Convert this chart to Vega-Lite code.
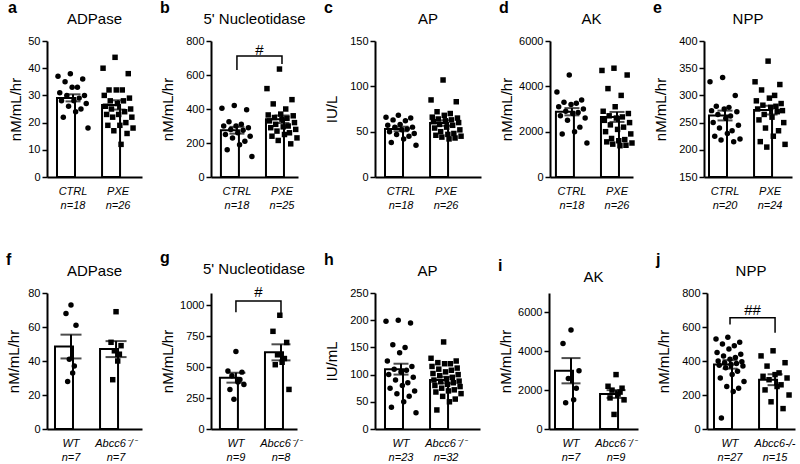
{
"$schema":"https://vega.github.io/schema/vega-lite/v6.json",
"background":"white",
"padding":{"left":6,"top":0,"right":2,"bottom":2},
"datasets":{
"pts":[
{"p":"a","g":"CTRL","v":37},{"p":"a","g":"CTRL","v":31},{"p":"a","g":"CTRL","v":28},{"p":"a","g":"CTRL","v":22},{"p":"a","g":"CTRL","v":35},{"p":"a","g":"CTRL","v":30},{"p":"a","g":"CTRL","v":26},{"p":"a","g":"CTRL","v":38},{"p":"a","g":"CTRL","v":33},{"p":"a","g":"CTRL","v":28},{"p":"a","g":"CTRL","v":24},{"p":"a","g":"CTRL","v":33},{"p":"a","g":"CTRL","v":29},{"p":"a","g":"CTRL","v":25},{"p":"a","g":"CTRL","v":36},{"p":"a","g":"CTRL","v":30},{"p":"a","g":"CTRL","v":27},{"p":"a","g":"CTRL","v":18},
{"p":"a","g":"PXE","v":40},{"p":"a","g":"PXE","v":30},{"p":"a","g":"PXE","v":26},{"p":"a","g":"PXE","v":23},{"p":"a","g":"PXE","v":19},{"p":"a","g":"PXE","v":32},{"p":"a","g":"PXE","v":28},{"p":"a","g":"PXE","v":25},{"p":"a","g":"PXE","v":22},{"p":"a","g":"PXE","v":17},{"p":"a","g":"PXE","v":44},{"p":"a","g":"PXE","v":32},{"p":"a","g":"PXE","v":27},{"p":"a","g":"PXE","v":23},{"p":"a","g":"PXE","v":19},{"p":"a","g":"PXE","v":12},{"p":"a","g":"PXE","v":32},{"p":"a","g":"PXE","v":28},{"p":"a","g":"PXE","v":24},{"p":"a","g":"PXE","v":20},{"p":"a","g":"PXE","v":16},{"p":"a","g":"PXE","v":38},{"p":"a","g":"PXE","v":29},{"p":"a","g":"PXE","v":25},{"p":"a","g":"PXE","v":22},{"p":"a","g":"PXE","v":18},
{"p":"b","g":"CTRL","v":405},{"p":"b","g":"CTRL","v":300},{"p":"b","g":"CTRL","v":250},{"p":"b","g":"CTRL","v":160},{"p":"b","g":"CTRL","v":325},{"p":"b","g":"CTRL","v":280},{"p":"b","g":"CTRL","v":230},{"p":"b","g":"CTRL","v":420},{"p":"b","g":"CTRL","v":300},{"p":"b","g":"CTRL","v":260},{"p":"b","g":"CTRL","v":190},{"p":"b","g":"CTRL","v":310},{"p":"b","g":"CTRL","v":275},{"p":"b","g":"CTRL","v":210},{"p":"b","g":"CTRL","v":395},{"p":"b","g":"CTRL","v":290},{"p":"b","g":"CTRL","v":240},{"p":"b","g":"CTRL","v":120},
{"p":"b","g":"PXE","v":520},{"p":"b","g":"PXE","v":365},{"p":"b","g":"PXE","v":330},{"p":"b","g":"PXE","v":290},{"p":"b","g":"PXE","v":240},{"p":"b","g":"PXE","v":430},{"p":"b","g":"PXE","v":350},{"p":"b","g":"PXE","v":310},{"p":"b","g":"PXE","v":270},{"p":"b","g":"PXE","v":215},{"p":"b","g":"PXE","v":635},{"p":"b","g":"PXE","v":370},{"p":"b","g":"PXE","v":340},{"p":"b","g":"PXE","v":295},{"p":"b","g":"PXE","v":250},{"p":"b","g":"PXE","v":400},{"p":"b","g":"PXE","v":345},{"p":"b","g":"PXE","v":300},{"p":"b","g":"PXE","v":260},{"p":"b","g":"PXE","v":195},{"p":"b","g":"PXE","v":455},{"p":"b","g":"PXE","v":360},{"p":"b","g":"PXE","v":320},{"p":"b","g":"PXE","v":280},{"p":"b","g":"PXE","v":230},
{"p":"c","g":"CTRL","v":66},{"p":"c","g":"CTRL","v":57},{"p":"c","g":"CTRL","v":50},{"p":"c","g":"CTRL","v":38},{"p":"c","g":"CTRL","v":63},{"p":"c","g":"CTRL","v":55},{"p":"c","g":"CTRL","v":47},{"p":"c","g":"CTRL","v":68},{"p":"c","g":"CTRL","v":58},{"p":"c","g":"CTRL","v":52},{"p":"c","g":"CTRL","v":42},{"p":"c","g":"CTRL","v":62},{"p":"c","g":"CTRL","v":53},{"p":"c","g":"CTRL","v":45},{"p":"c","g":"CTRL","v":65},{"p":"c","g":"CTRL","v":55},{"p":"c","g":"CTRL","v":48},{"p":"c","g":"CTRL","v":35},
{"p":"c","g":"PXE","v":85},{"p":"c","g":"PXE","v":66},{"p":"c","g":"PXE","v":61},{"p":"c","g":"PXE","v":54},{"p":"c","g":"PXE","v":46},{"p":"c","g":"PXE","v":72},{"p":"c","g":"PXE","v":64},{"p":"c","g":"PXE","v":58},{"p":"c","g":"PXE","v":50},{"p":"c","g":"PXE","v":44},{"p":"c","g":"PXE","v":107},{"p":"c","g":"PXE","v":68},{"p":"c","g":"PXE","v":62},{"p":"c","g":"PXE","v":55},{"p":"c","g":"PXE","v":47},{"p":"c","g":"PXE","v":42},{"p":"c","g":"PXE","v":70},{"p":"c","g":"PXE","v":63},{"p":"c","g":"PXE","v":57},{"p":"c","g":"PXE","v":48},{"p":"c","g":"PXE","v":43},{"p":"c","g":"PXE","v":83},{"p":"c","g":"PXE","v":65},{"p":"c","g":"PXE","v":60},{"p":"c","g":"PXE","v":52},{"p":"c","g":"PXE","v":45},
{"p":"d","g":"CTRL","v":3750},{"p":"d","g":"CTRL","v":3100},{"p":"d","g":"CTRL","v":2700},{"p":"d","g":"CTRL","v":1900},{"p":"d","g":"CTRL","v":3300},{"p":"d","g":"CTRL","v":2900},{"p":"d","g":"CTRL","v":2500},{"p":"d","g":"CTRL","v":4500},{"p":"d","g":"CTRL","v":3200},{"p":"d","g":"CTRL","v":2800},{"p":"d","g":"CTRL","v":2000},{"p":"d","g":"CTRL","v":3250},{"p":"d","g":"CTRL","v":2850},{"p":"d","g":"CTRL","v":2200},{"p":"d","g":"CTRL","v":3400},{"p":"d","g":"CTRL","v":3000},{"p":"d","g":"CTRL","v":2600},{"p":"d","g":"CTRL","v":1500},
{"p":"d","g":"PXE","v":4700},{"p":"d","g":"PXE","v":2900},{"p":"d","g":"PXE","v":2500},{"p":"d","g":"PXE","v":2000},{"p":"d","g":"PXE","v":1550},{"p":"d","g":"PXE","v":3900},{"p":"d","g":"PXE","v":2700},{"p":"d","g":"PXE","v":2300},{"p":"d","g":"PXE","v":1700},{"p":"d","g":"PXE","v":1450},{"p":"d","g":"PXE","v":4800},{"p":"d","g":"PXE","v":3100},{"p":"d","g":"PXE","v":2600},{"p":"d","g":"PXE","v":2100},{"p":"d","g":"PXE","v":1600},{"p":"d","g":"PXE","v":1380},{"p":"d","g":"PXE","v":3600},{"p":"d","g":"PXE","v":2650},{"p":"d","g":"PXE","v":2200},{"p":"d","g":"PXE","v":1650},{"p":"d","g":"PXE","v":1400},{"p":"d","g":"PXE","v":4500},{"p":"d","g":"PXE","v":2800},{"p":"d","g":"PXE","v":2400},{"p":"d","g":"PXE","v":1900},{"p":"d","g":"PXE","v":1500},
{"p":"e","g":"CTRL","v":325},{"p":"e","g":"CTRL","v":272},{"p":"e","g":"CTRL","v":250},{"p":"e","g":"CTRL","v":225},{"p":"e","g":"CTRL","v":280},{"p":"e","g":"CTRL","v":265},{"p":"e","g":"CTRL","v":240},{"p":"e","g":"CTRL","v":218},{"p":"e","g":"CTRL","v":333},{"p":"e","g":"CTRL","v":275},{"p":"e","g":"CTRL","v":258},{"p":"e","g":"CTRL","v":230},{"p":"e","g":"CTRL","v":278},{"p":"e","g":"CTRL","v":262},{"p":"e","g":"CTRL","v":235},{"p":"e","g":"CTRL","v":215},{"p":"e","g":"CTRL","v":300},{"p":"e","g":"CTRL","v":270},{"p":"e","g":"CTRL","v":245},{"p":"e","g":"CTRL","v":220},
{"p":"e","g":"PXE","v":325},{"p":"e","g":"PXE","v":290},{"p":"e","g":"PXE","v":275},{"p":"e","g":"PXE","v":255},{"p":"e","g":"PXE","v":215},{"p":"e","g":"PXE","v":310},{"p":"e","g":"PXE","v":282},{"p":"e","g":"PXE","v":265},{"p":"e","g":"PXE","v":240},{"p":"e","g":"PXE","v":205},{"p":"e","g":"PXE","v":363},{"p":"e","g":"PXE","v":295},{"p":"e","g":"PXE","v":278},{"p":"e","g":"PXE","v":260},{"p":"e","g":"PXE","v":225},{"p":"e","g":"PXE","v":300},{"p":"e","g":"PXE","v":280},{"p":"e","g":"PXE","v":270},{"p":"e","g":"PXE","v":235},{"p":"e","g":"PXE","v":320},{"p":"e","g":"PXE","v":285},{"p":"e","g":"PXE","v":272},{"p":"e","g":"PXE","v":250},{"p":"e","g":"PXE","v":210},
{"p":"f","g":"WT","v":68},{"p":"f","g":"WT","v":28},{"p":"f","g":"WT","v":41},{"p":"f","g":"WT","v":73},{"p":"f","g":"WT","v":33},{"p":"f","g":"WT","v":37},{"p":"f","g":"WT","v":61},
{"p":"f","g":"KO","v":51},{"p":"f","g":"KO","v":29},{"p":"f","g":"KO","v":46},{"p":"f","g":"KO","v":69},{"p":"f","g":"KO","v":40},{"p":"f","g":"KO","v":44},{"p":"f","g":"KO","v":49},
{"p":"g","g":"WT","v":470},{"p":"g","g":"WT","v":320},{"p":"g","g":"WT","v":430},{"p":"g","g":"WT","v":240},{"p":"g","g":"WT","v":627},{"p":"g","g":"WT","v":380},{"p":"g","g":"WT","v":400},{"p":"g","g":"WT","v":460},{"p":"g","g":"WT","v":360},
{"p":"g","g":"KO","v":790},{"p":"g","g":"KO","v":520},{"p":"g","g":"KO","v":600},{"p":"g","g":"KO","v":920},{"p":"g","g":"KO","v":540},{"p":"g","g":"KO","v":570},{"p":"g","g":"KO","v":700},{"p":"g","g":"KO","v":320},
{"p":"h","g":"WT","v":198},{"p":"h","g":"WT","v":125},{"p":"h","g":"WT","v":100},{"p":"h","g":"WT","v":75},{"p":"h","g":"WT","v":40},{"p":"h","g":"WT","v":155},{"p":"h","g":"WT","v":110},{"p":"h","g":"WT","v":90},{"p":"h","g":"WT","v":65},{"p":"h","g":"WT","v":200},{"p":"h","g":"WT","v":140},{"p":"h","g":"WT","v":105},{"p":"h","g":"WT","v":80},{"p":"h","g":"WT","v":50},{"p":"h","g":"WT","v":150},{"p":"h","g":"WT","v":108},{"p":"h","g":"WT","v":85},{"p":"h","g":"WT","v":60},{"p":"h","g":"WT","v":195},{"p":"h","g":"WT","v":115},{"p":"h","g":"WT","v":95},{"p":"h","g":"WT","v":70},{"p":"h","g":"WT","v":30},
{"p":"h","g":"KO","v":130},{"p":"h","g":"KO","v":115},{"p":"h","g":"KO","v":102},{"p":"h","g":"KO","v":90},{"p":"h","g":"KO","v":80},{"p":"h","g":"KO","v":68},{"p":"h","g":"KO","v":35},{"p":"h","g":"KO","v":122},{"p":"h","g":"KO","v":110},{"p":"h","g":"KO","v":98},{"p":"h","g":"KO","v":87},{"p":"h","g":"KO","v":75},{"p":"h","g":"KO","v":60},{"p":"h","g":"KO","v":160},{"p":"h","g":"KO","v":120},{"p":"h","g":"KO","v":105},{"p":"h","g":"KO","v":92},{"p":"h","g":"KO","v":82},{"p":"h","g":"KO","v":70},{"p":"h","g":"KO","v":50},{"p":"h","g":"KO","v":120},{"p":"h","g":"KO","v":108},{"p":"h","g":"KO","v":95},{"p":"h","g":"KO","v":85},{"p":"h","g":"KO","v":72},{"p":"h","g":"KO","v":55},{"p":"h","g":"KO","v":125},{"p":"h","g":"KO","v":112},{"p":"h","g":"KO","v":100},{"p":"h","g":"KO","v":88},{"p":"h","g":"KO","v":78},{"p":"h","g":"KO","v":65},
{"p":"i","g":"WT","v":4400},{"p":"i","g":"WT","v":1350},{"p":"i","g":"WT","v":2600},{"p":"i","g":"WT","v":5100},{"p":"i","g":"WT","v":1500},{"p":"i","g":"WT","v":2100},{"p":"i","g":"WT","v":3000},
{"p":"i","g":"KO","v":2200},{"p":"i","g":"KO","v":1600},{"p":"i","g":"KO","v":2000},{"p":"i","g":"KO","v":750},{"p":"i","g":"KO","v":2800},{"p":"i","g":"KO","v":1800},{"p":"i","g":"KO","v":1900},{"p":"i","g":"KO","v":2100},{"p":"i","g":"KO","v":1500},
{"p":"j","g":"WT","v":530},{"p":"j","g":"WT","v":450},{"p":"j","g":"WT","v":400},{"p":"j","g":"WT","v":375},{"p":"j","g":"WT","v":300},{"p":"j","g":"WT","v":65},{"p":"j","g":"WT","v":500},{"p":"j","g":"WT","v":430},{"p":"j","g":"WT","v":390},{"p":"j","g":"WT","v":360},{"p":"j","g":"WT","v":250},{"p":"j","g":"WT","v":540},{"p":"j","g":"WT","v":470},{"p":"j","g":"WT","v":410},{"p":"j","g":"WT","v":380},{"p":"j","g":"WT","v":320},{"p":"j","g":"WT","v":220},{"p":"j","g":"WT","v":490},{"p":"j","g":"WT","v":420},{"p":"j","g":"WT","v":385},{"p":"j","g":"WT","v":340},{"p":"j","g":"WT","v":240},{"p":"j","g":"WT","v":510},{"p":"j","g":"WT","v":440},{"p":"j","g":"WT","v":395},{"p":"j","g":"WT","v":370},{"p":"j","g":"WT","v":280},
{"p":"j","g":"KO","v":430},{"p":"j","g":"KO","v":310},{"p":"j","g":"KO","v":230},{"p":"j","g":"KO","v":370},{"p":"j","g":"KO","v":290},{"p":"j","g":"KO","v":160},{"p":"j","g":"KO","v":460},{"p":"j","g":"KO","v":320},{"p":"j","g":"KO","v":250},{"p":"j","g":"KO","v":330},{"p":"j","g":"KO","v":260},{"p":"j","g":"KO","v":120},{"p":"j","g":"KO","v":390},{"p":"j","g":"KO","v":300},{"p":"j","g":"KO","v":200}
],
"sum":[
{"p":"a","g":"CTRL","m":29,"lo":27.8,"hi":30.4},{"p":"a","g":"PXE","m":26.5,"lo":24.8,"hi":28.2},
{"p":"b","g":"CTRL","m":275,"lo":255,"hi":295},{"p":"b","g":"PXE","m":340,"lo":318,"hi":362},
{"p":"c","g":"CTRL","m":53,"lo":50.5,"hi":55.5},{"p":"c","g":"PXE","m":59.5,"lo":56.5,"hi":62.5},
{"p":"d","g":"CTRL","m":2880,"lo":2720,"hi":3040},{"p":"d","g":"PXE","m":2650,"lo":2430,"hi":2870},
{"p":"e","g":"CTRL","m":263,"lo":254,"hi":272},{"p":"e","g":"PXE","m":273,"lo":265,"hi":281},
{"p":"f","g":"WT","m":48.5,"lo":41.5,"hi":55.5},{"p":"f","g":"KO","m":47,"lo":42.3,"hi":51.7},
{"p":"g","g":"WT","m":415,"lo":375,"hi":455},{"p":"g","g":"KO","m":620,"lo":555,"hi":685},
{"p":"h","g":"WT","m":110,"lo":100,"hi":120},{"p":"h","g":"KO","m":90,"lo":84,"hi":96},
{"p":"i","g":"WT","m":3000,"lo":2350,"hi":3650},{"p":"i","g":"KO","m":1800,"lo":1600,"hi":2000},
{"p":"j","g":"WT","m":380,"lo":355,"hi":405},{"p":"j","g":"KO","m":290,"lo":258,"hi":322}
],
"br":[
{"p":"b","g":"CTRL","y":630,"o":1},{"p":"b","g":"CTRL","y":712,"o":2},{"p":"b","g":"PXE","y":712,"o":3},{"p":"b","g":"PXE","y":665,"o":4},
{"p":"g","g":"WT","y":945,"o":1},{"p":"g","g":"WT","y":1035,"o":2},{"p":"g","g":"KO","y":1035,"o":3},{"p":"g","g":"KO","y":935,"o":4},
{"p":"j","g":"WT","y":615,"o":1},{"p":"j","g":"WT","y":654,"o":2},{"p":"j","g":"KO","y":654,"o":3},{"p":"j","g":"KO","y":566,"o":4}
],
"sig":[
{"p":"b","g":"CTRL","y":745,"t":"#"},
{"p":"g","g":"WT","y":1110,"t":"#"},
{"p":"j","g":"WT","y":702,"t":"##"}
]
},
"vconcat":[
{"hconcat":[
{"title":{"text":"a","anchor":"start","fontWeight":"bold","fontSize":16,"offset":-4},"vconcat":[{"width":95,"height":136,"title":{"text":"ADPase","anchor":"middle","frame":"group","offset":8,"fontWeight":"normal"},
"encoding":{"x":{"field":"g","type":"nominal","title":null,"scale":{"domain":["CTRL","PXE"],"paddingInner":0.289,"paddingOuter":0.1989,"align":0.558},"axis":{"labelExpr":"datum.value=='CTRL'?['CTRL','n=18']:['PXE','n=26']"}}},
"layer":[
{"data":{"name":"sum"},"transform":[{"filter":"datum.p=='a'"}],"mark":{"type":"bar","fill":"white","stroke":"black","strokeWidth":2},"encoding":{"y":{"field":"m","type":"quantitative","title":"nM/mL/hr","scale":{"domain":[0,50],"nice":false},"axis":{"values":[0,10,20,30,40,50],"format":"d","minExtent":20,"maxExtent":20}}}},
{"data":{"name":"pts"},"transform":[{"filter":"datum.p=='a'"},{"window":[{"op":"row_number","as":"rn"}],"groupby":["g"]},{"window":[{"op":"percent_rank","as":"pr"}],"sort":[{"field":"rn"}],"groupby":["g"]}],"mark":{"type":"point","filled":true,"opacity":1,"size":30,"color":"black"},"encoding":{"xOffset":{"field":"pr","type":"quantitative","scale":{"domain":[0,1],"range":[1,31]}},"y":{"field":"v","type":"quantitative","title":"nM/mL/hr","scale":{"domain":[0,50],"nice":false},"axis":{"values":[0,10,20,30,40,50],"format":"d","minExtent":20,"maxExtent":20}},"shape":{"condition":{"test":"datum.g=='CTRL'||datum.g=='WT'","value":"circle"},"value":"square"}}},
{"data":{"name":"sum"},"transform":[{"filter":"datum.p=='a'"}],"mark":{"type":"rule","strokeWidth":2,"color":"black"},"encoding":{"y":{"field":"lo","type":"quantitative","title":"nM/mL/hr","scale":{"domain":[0,50],"nice":false},"axis":{"values":[0,10,20,30,40,50],"format":"d","minExtent":20,"maxExtent":20}},"y2":{"field":"hi"}}},
{"data":{"name":"sum"},"transform":[{"filter":"datum.p=='a'"}],"mark":{"type":"tick","size":15,"thickness":2,"color":"black"},"encoding":{"y":{"field":"hi","type":"quantitative","title":"nM/mL/hr","scale":{"domain":[0,50],"nice":false},"axis":{"values":[0,10,20,30,40,50],"format":"d","minExtent":20,"maxExtent":20}}}},
{"data":{"name":"sum"},"transform":[{"filter":"datum.p=='a'"}],"mark":{"type":"tick","size":15,"thickness":2,"color":"black"},"encoding":{"y":{"field":"lo","type":"quantitative","title":"nM/mL/hr","scale":{"domain":[0,50],"nice":false},"axis":{"values":[0,10,20,30,40,50],"format":"d","minExtent":20,"maxExtent":20}}}}
]}]},
{"title":{"text":"b","anchor":"start","fontWeight":"bold","fontSize":16,"offset":-4},"vconcat":[{"width":87,"height":136,"title":{"text":"5' Nucleotidase","anchor":"middle","frame":"group","offset":8,"fontWeight":"normal"},
"encoding":{"x":{"field":"g","type":"nominal","title":null,"scale":{"domain":["CTRL","PXE"],"paddingInner":0.289,"paddingOuter":0.1101,"align":1},"axis":{"labelExpr":"datum.value=='CTRL'?['CTRL','n=18']:['PXE','n=25']"}}},
"layer":[
{"data":{"name":"sum"},"transform":[{"filter":"datum.p=='b'"}],"mark":{"type":"bar","fill":"white","stroke":"black","strokeWidth":2},"encoding":{"y":{"field":"m","type":"quantitative","title":"nM/mL/hr","scale":{"domain":[0,800],"nice":false},"axis":{"values":[0,200,400,600,800],"format":"d","minExtent":32,"maxExtent":32}}}},
{"data":{"name":"pts"},"transform":[{"filter":"datum.p=='b'"},{"window":[{"op":"row_number","as":"rn"}],"groupby":["g"]},{"window":[{"op":"percent_rank","as":"pr"}],"sort":[{"field":"rn"}],"groupby":["g"]}],"mark":{"type":"point","filled":true,"opacity":1,"size":30,"color":"black"},"encoding":{"xOffset":{"field":"pr","type":"quantitative","scale":{"domain":[0,1],"range":[1,31]}},"y":{"field":"v","type":"quantitative","title":"nM/mL/hr","scale":{"domain":[0,800],"nice":false},"axis":{"values":[0,200,400,600,800],"format":"d","minExtent":32,"maxExtent":32}},"shape":{"condition":{"test":"datum.g=='CTRL'||datum.g=='WT'","value":"circle"},"value":"square"}}},
{"data":{"name":"sum"},"transform":[{"filter":"datum.p=='b'"}],"mark":{"type":"rule","strokeWidth":2,"color":"black"},"encoding":{"y":{"field":"lo","type":"quantitative","title":"nM/mL/hr","scale":{"domain":[0,800],"nice":false},"axis":{"values":[0,200,400,600,800],"format":"d","minExtent":32,"maxExtent":32}},"y2":{"field":"hi"}}},
{"data":{"name":"sum"},"transform":[{"filter":"datum.p=='b'"}],"mark":{"type":"tick","size":15,"thickness":2,"color":"black"},"encoding":{"y":{"field":"hi","type":"quantitative","title":"nM/mL/hr","scale":{"domain":[0,800],"nice":false},"axis":{"values":[0,200,400,600,800],"format":"d","minExtent":32,"maxExtent":32}}}},
{"data":{"name":"sum"},"transform":[{"filter":"datum.p=='b'"}],"mark":{"type":"tick","size":15,"thickness":2,"color":"black"},"encoding":{"y":{"field":"lo","type":"quantitative","title":"nM/mL/hr","scale":{"domain":[0,800],"nice":false},"axis":{"values":[0,200,400,600,800],"format":"d","minExtent":32,"maxExtent":32}}}},
{"data":{"name":"br"},"transform":[{"filter":"datum.p=='b'"}],"mark":{"type":"line","color":"black","strokeWidth":1.5},"encoding":{"y":{"field":"y","type":"quantitative","title":"nM/mL/hr","scale":{"domain":[0,800],"nice":false},"axis":{"values":[0,200,400,600,800],"format":"d","minExtent":32,"maxExtent":32}},"order":{"field":"o"}}},
{"data":{"name":"sig"},"transform":[{"filter":"datum.p=='b'"}],"mark":{"type":"text","dx":22.5,"fontSize":15,"baseline":"middle","color":"black"},"encoding":{"y":{"field":"y","type":"quantitative","title":"nM/mL/hr","scale":{"domain":[0,800],"nice":false},"axis":{"values":[0,200,400,600,800],"format":"d","minExtent":32,"maxExtent":32}},"text":{"field":"t"}}}
]}]},
{"title":{"text":"c","anchor":"start","fontWeight":"bold","fontSize":16,"offset":-4},"vconcat":[{"width":106,"height":136,"title":{"text":"AP","anchor":"middle","frame":"group","offset":8,"fontWeight":"normal"},
"encoding":{"x":{"field":"g","type":"nominal","title":null,"scale":{"domain":["CTRL","PXE"],"paddingInner":0.289,"paddingOuter":0.321,"align":0.346},"axis":{"labelExpr":"datum.value=='CTRL'?['CTRL','n=18']:['PXE','n=26']"}}},
"layer":[
{"data":{"name":"sum"},"transform":[{"filter":"datum.p=='c'"}],"mark":{"type":"bar","fill":"white","stroke":"black","strokeWidth":2},"encoding":{"y":{"field":"m","type":"quantitative","title":"IU/L","scale":{"domain":[0,150],"nice":false},"axis":{"values":[0,50,100,150],"format":"d","minExtent":32,"maxExtent":32}}}},
{"data":{"name":"pts"},"transform":[{"filter":"datum.p=='c'"},{"window":[{"op":"row_number","as":"rn"}],"groupby":["g"]},{"window":[{"op":"percent_rank","as":"pr"}],"sort":[{"field":"rn"}],"groupby":["g"]}],"mark":{"type":"point","filled":true,"opacity":1,"size":30,"color":"black"},"encoding":{"xOffset":{"field":"pr","type":"quantitative","scale":{"domain":[0,1],"range":[1,31]}},"y":{"field":"v","type":"quantitative","title":"IU/L","scale":{"domain":[0,150],"nice":false},"axis":{"values":[0,50,100,150],"format":"d","minExtent":32,"maxExtent":32}},"shape":{"condition":{"test":"datum.g=='CTRL'||datum.g=='WT'","value":"circle"},"value":"square"}}},
{"data":{"name":"sum"},"transform":[{"filter":"datum.p=='c'"}],"mark":{"type":"rule","strokeWidth":2,"color":"black"},"encoding":{"y":{"field":"lo","type":"quantitative","title":"IU/L","scale":{"domain":[0,150],"nice":false},"axis":{"values":[0,50,100,150],"format":"d","minExtent":32,"maxExtent":32}},"y2":{"field":"hi"}}},
{"data":{"name":"sum"},"transform":[{"filter":"datum.p=='c'"}],"mark":{"type":"tick","size":15,"thickness":2,"color":"black"},"encoding":{"y":{"field":"hi","type":"quantitative","title":"IU/L","scale":{"domain":[0,150],"nice":false},"axis":{"values":[0,50,100,150],"format":"d","minExtent":32,"maxExtent":32}}}},
{"data":{"name":"sum"},"transform":[{"filter":"datum.p=='c'"}],"mark":{"type":"tick","size":15,"thickness":2,"color":"black"},"encoding":{"y":{"field":"lo","type":"quantitative","title":"IU/L","scale":{"domain":[0,150],"nice":false},"axis":{"values":[0,50,100,150],"format":"d","minExtent":32,"maxExtent":32}}}}
]}]},
{"title":{"text":"d","anchor":"start","fontWeight":"bold","fontSize":16,"offset":-4},"vconcat":[{"width":83,"height":136,"title":{"text":"AK","anchor":"middle","frame":"group","offset":8,"fontWeight":"normal"},
"encoding":{"x":{"field":"g","type":"nominal","title":null,"scale":{"domain":["CTRL","PXE"],"paddingInner":0.289,"paddingOuter":0.0657,"align":1},"axis":{"labelExpr":"datum.value=='CTRL'?['CTRL','n=18']:['PXE','n=26']"}}},
"layer":[
{"data":{"name":"sum"},"transform":[{"filter":"datum.p=='d'"}],"mark":{"type":"bar","fill":"white","stroke":"black","strokeWidth":2},"encoding":{"y":{"field":"m","type":"quantitative","title":"nM/mL/hr","scale":{"domain":[0,6000],"nice":false},"axis":{"values":[0,2000,4000,6000],"format":"d","minExtent":32,"maxExtent":32}}}},
{"data":{"name":"pts"},"transform":[{"filter":"datum.p=='d'"},{"window":[{"op":"row_number","as":"rn"}],"groupby":["g"]},{"window":[{"op":"percent_rank","as":"pr"}],"sort":[{"field":"rn"}],"groupby":["g"]}],"mark":{"type":"point","filled":true,"opacity":1,"size":30,"color":"black"},"encoding":{"xOffset":{"field":"pr","type":"quantitative","scale":{"domain":[0,1],"range":[1,31]}},"y":{"field":"v","type":"quantitative","title":"nM/mL/hr","scale":{"domain":[0,6000],"nice":false},"axis":{"values":[0,2000,4000,6000],"format":"d","minExtent":32,"maxExtent":32}},"shape":{"condition":{"test":"datum.g=='CTRL'||datum.g=='WT'","value":"circle"},"value":"square"}}},
{"data":{"name":"sum"},"transform":[{"filter":"datum.p=='d'"}],"mark":{"type":"rule","strokeWidth":2,"color":"black"},"encoding":{"y":{"field":"lo","type":"quantitative","title":"nM/mL/hr","scale":{"domain":[0,6000],"nice":false},"axis":{"values":[0,2000,4000,6000],"format":"d","minExtent":32,"maxExtent":32}},"y2":{"field":"hi"}}},
{"data":{"name":"sum"},"transform":[{"filter":"datum.p=='d'"}],"mark":{"type":"tick","size":15,"thickness":2,"color":"black"},"encoding":{"y":{"field":"hi","type":"quantitative","title":"nM/mL/hr","scale":{"domain":[0,6000],"nice":false},"axis":{"values":[0,2000,4000,6000],"format":"d","minExtent":32,"maxExtent":32}}}},
{"data":{"name":"sum"},"transform":[{"filter":"datum.p=='d'"}],"mark":{"type":"tick","size":15,"thickness":2,"color":"black"},"encoding":{"y":{"field":"lo","type":"quantitative","title":"nM/mL/hr","scale":{"domain":[0,6000],"nice":false},"axis":{"values":[0,2000,4000,6000],"format":"d","minExtent":32,"maxExtent":32}}}}
]}]},
{"title":{"text":"e","anchor":"start","fontWeight":"bold","fontSize":16,"offset":-4},"vconcat":[{"width":88,"height":136,"title":{"text":"NPP","anchor":"middle","frame":"group","offset":8,"fontWeight":"normal"},
"encoding":{"x":{"field":"g","type":"nominal","title":null,"scale":{"domain":["CTRL","PXE"],"paddingInner":0.289,"paddingOuter":0.1212,"align":0.458},"axis":{"labelExpr":"datum.value=='CTRL'?['CTRL','n=20']:['PXE','n=24']"}}},
"layer":[
{"data":{"name":"sum"},"transform":[{"filter":"datum.p=='e'"}],"mark":{"type":"bar","fill":"white","stroke":"black","strokeWidth":2},"encoding":{"y":{"field":"m","type":"quantitative","title":"nM/mL/hr","scale":{"domain":[150,400],"nice":false,"zero":false},"axis":{"values":[150,200,250,300,350,400],"format":"d","minExtent":32,"maxExtent":32}},"y2":{"datum":150}}},
{"data":{"name":"pts"},"transform":[{"filter":"datum.p=='e'"},{"window":[{"op":"row_number","as":"rn"}],"groupby":["g"]},{"window":[{"op":"percent_rank","as":"pr"}],"sort":[{"field":"rn"}],"groupby":["g"]}],"mark":{"type":"point","filled":true,"opacity":1,"size":30,"color":"black"},"encoding":{"xOffset":{"field":"pr","type":"quantitative","scale":{"domain":[0,1],"range":[1,31]}},"y":{"field":"v","type":"quantitative","title":"nM/mL/hr","scale":{"domain":[150,400],"nice":false,"zero":false},"axis":{"values":[150,200,250,300,350,400],"format":"d","minExtent":32,"maxExtent":32}},"shape":{"condition":{"test":"datum.g=='CTRL'||datum.g=='WT'","value":"circle"},"value":"square"}}},
{"data":{"name":"sum"},"transform":[{"filter":"datum.p=='e'"}],"mark":{"type":"rule","strokeWidth":2,"color":"black"},"encoding":{"y":{"field":"lo","type":"quantitative","title":"nM/mL/hr","scale":{"domain":[150,400],"nice":false,"zero":false},"axis":{"values":[150,200,250,300,350,400],"format":"d","minExtent":32,"maxExtent":32}},"y2":{"field":"hi"}}},
{"data":{"name":"sum"},"transform":[{"filter":"datum.p=='e'"}],"mark":{"type":"tick","size":15,"thickness":2,"color":"black"},"encoding":{"y":{"field":"hi","type":"quantitative","title":"nM/mL/hr","scale":{"domain":[150,400],"nice":false,"zero":false},"axis":{"values":[150,200,250,300,350,400],"format":"d","minExtent":32,"maxExtent":32}}}},
{"data":{"name":"sum"},"transform":[{"filter":"datum.p=='e'"}],"mark":{"type":"tick","size":15,"thickness":2,"color":"black"},"encoding":{"y":{"field":"lo","type":"quantitative","title":"nM/mL/hr","scale":{"domain":[150,400],"nice":false,"zero":false},"axis":{"values":[150,200,250,300,350,400],"format":"d","minExtent":32,"maxExtent":32}}}}
]}]}
],"spacing":18,"resolve":{"scale":{"x":"independent","y":"independent","xOffset":"independent"}}},
{"hconcat":[
{"title":{"text":"f","anchor":"start","fontWeight":"bold","fontSize":16,"offset":-4},"vconcat":[{"width":95,"height":136,"title":{"text":"ADPase","anchor":"middle","frame":"group","offset":8,"fontWeight":"normal"},
"encoding":{"x":{"field":"g","type":"nominal","title":null,"scale":{"domain":["WT","KO"],"paddingInner":0.289,"paddingOuter":0.1989,"align":0.446},"axis":{"labelExpr":"datum.value=='WT'?['WT','n=7']:['Abcc6⁻/⁻','n=7']"}}},
"layer":[
{"data":{"name":"sum"},"transform":[{"filter":"datum.p=='f'"}],"mark":{"type":"bar","fill":"white","stroke":"black","strokeWidth":2},"encoding":{"y":{"field":"m","type":"quantitative","title":"nM/mL/hr","scale":{"domain":[0,80],"nice":false},"axis":{"values":[0,20,40,60,80],"format":"d","minExtent":22,"maxExtent":22}}}},
{"data":{"name":"pts"},"transform":[{"filter":"datum.p=='f'"},{"window":[{"op":"row_number","as":"rn"}],"groupby":["g"]},{"window":[{"op":"percent_rank","as":"pr"}],"sort":[{"field":"rn"}],"groupby":["g"]}],"mark":{"type":"point","filled":true,"opacity":1,"size":30,"color":"black"},"encoding":{"xOffset":{"field":"pr","type":"quantitative","scale":{"domain":[0,1],"range":[11,21]}},"y":{"field":"v","type":"quantitative","title":"nM/mL/hr","scale":{"domain":[0,80],"nice":false},"axis":{"values":[0,20,40,60,80],"format":"d","minExtent":22,"maxExtent":22}},"shape":{"condition":{"test":"datum.g=='CTRL'||datum.g=='WT'","value":"circle"},"value":"square"}}},
{"data":{"name":"sum"},"transform":[{"filter":"datum.p=='f'"}],"mark":{"type":"rule","strokeWidth":2,"color":"black"},"encoding":{"y":{"field":"lo","type":"quantitative","title":"nM/mL/hr","scale":{"domain":[0,80],"nice":false},"axis":{"values":[0,20,40,60,80],"format":"d","minExtent":22,"maxExtent":22}},"y2":{"field":"hi"}}},
{"data":{"name":"sum"},"transform":[{"filter":"datum.p=='f'"}],"mark":{"type":"tick","size":21,"thickness":2,"color":"black"},"encoding":{"y":{"field":"hi","type":"quantitative","title":"nM/mL/hr","scale":{"domain":[0,80],"nice":false},"axis":{"values":[0,20,40,60,80],"format":"d","minExtent":22,"maxExtent":22}}}},
{"data":{"name":"sum"},"transform":[{"filter":"datum.p=='f'"}],"mark":{"type":"tick","size":21,"thickness":2,"color":"black"},"encoding":{"y":{"field":"lo","type":"quantitative","title":"nM/mL/hr","scale":{"domain":[0,80],"nice":false},"axis":{"values":[0,20,40,60,80],"format":"d","minExtent":22,"maxExtent":22}}}}
]}]},
{"title":{"text":"g","anchor":"start","fontWeight":"bold","fontSize":16,"offset":-4},"vconcat":[{"width":86,"height":136,"title":{"text":"5' Nucleotidase","anchor":"middle","frame":"group","offset":8,"fontWeight":"normal"},
"encoding":{"x":{"field":"g","type":"nominal","title":null,"scale":{"domain":["WT","KO"],"paddingInner":0.289,"paddingOuter":0.099,"align":1},"axis":{"labelExpr":"datum.value=='WT'?['WT','n=9']:['Abcc6⁻/⁻','n=8']"}}},
"layer":[
{"data":{"name":"sum"},"transform":[{"filter":"datum.p=='g'"}],"mark":{"type":"bar","fill":"white","stroke":"black","strokeWidth":2},"encoding":{"y":{"field":"m","type":"quantitative","title":"nM/mL/hr","scale":{"domain":[0,1100],"nice":false},"axis":{"values":[0,250,500,750,1000],"format":"d","minExtent":32,"maxExtent":32}}}},
{"data":{"name":"pts"},"transform":[{"filter":"datum.p=='g'"},{"window":[{"op":"row_number","as":"rn"}],"groupby":["g"]},{"window":[{"op":"percent_rank","as":"pr"}],"sort":[{"field":"rn"}],"groupby":["g"]}],"mark":{"type":"point","filled":true,"opacity":1,"size":30,"color":"black"},"encoding":{"xOffset":{"field":"pr","type":"quantitative","scale":{"domain":[0,1],"range":[8,24]}},"y":{"field":"v","type":"quantitative","title":"nM/mL/hr","scale":{"domain":[0,1100],"nice":false},"axis":{"values":[0,250,500,750,1000],"format":"d","minExtent":32,"maxExtent":32}},"shape":{"condition":{"test":"datum.g=='CTRL'||datum.g=='WT'","value":"circle"},"value":"square"}}},
{"data":{"name":"sum"},"transform":[{"filter":"datum.p=='g'"}],"mark":{"type":"rule","strokeWidth":2,"color":"black"},"encoding":{"y":{"field":"lo","type":"quantitative","title":"nM/mL/hr","scale":{"domain":[0,1100],"nice":false},"axis":{"values":[0,250,500,750,1000],"format":"d","minExtent":32,"maxExtent":32}},"y2":{"field":"hi"}}},
{"data":{"name":"sum"},"transform":[{"filter":"datum.p=='g'"}],"mark":{"type":"tick","size":19,"thickness":2,"color":"black"},"encoding":{"y":{"field":"hi","type":"quantitative","title":"nM/mL/hr","scale":{"domain":[0,1100],"nice":false},"axis":{"values":[0,250,500,750,1000],"format":"d","minExtent":32,"maxExtent":32}}}},
{"data":{"name":"sum"},"transform":[{"filter":"datum.p=='g'"}],"mark":{"type":"tick","size":19,"thickness":2,"color":"black"},"encoding":{"y":{"field":"lo","type":"quantitative","title":"nM/mL/hr","scale":{"domain":[0,1100],"nice":false},"axis":{"values":[0,250,500,750,1000],"format":"d","minExtent":32,"maxExtent":32}}}},
{"data":{"name":"br"},"transform":[{"filter":"datum.p=='g'"}],"mark":{"type":"line","color":"black","strokeWidth":1.5},"encoding":{"y":{"field":"y","type":"quantitative","title":"nM/mL/hr","scale":{"domain":[0,1100],"nice":false},"axis":{"values":[0,250,500,750,1000],"format":"d","minExtent":32,"maxExtent":32}},"order":{"field":"o"}}},
{"data":{"name":"sig"},"transform":[{"filter":"datum.p=='g'"}],"mark":{"type":"text","dx":22.5,"fontSize":15,"baseline":"middle","color":"black"},"encoding":{"y":{"field":"y","type":"quantitative","title":"nM/mL/hr","scale":{"domain":[0,1100],"nice":false},"axis":{"values":[0,250,500,750,1000],"format":"d","minExtent":32,"maxExtent":32}},"text":{"field":"t"}}}
]}]},
{"title":{"text":"h","anchor":"start","fontWeight":"bold","fontSize":16,"offset":-4},"vconcat":[{"width":105,"height":136,"title":{"text":"AP","anchor":"middle","frame":"group","offset":8,"fontWeight":"normal"},
"encoding":{"x":{"field":"g","type":"nominal","title":null,"scale":{"domain":["WT","KO"],"paddingInner":0.289,"paddingOuter":0.3099,"align":0.358},"axis":{"labelExpr":"datum.value=='WT'?['WT','n=23']:['Abcc6⁻/⁻','n=32']"}}},
"layer":[
{"data":{"name":"sum"},"transform":[{"filter":"datum.p=='h'"}],"mark":{"type":"bar","fill":"white","stroke":"black","strokeWidth":2},"encoding":{"y":{"field":"m","type":"quantitative","title":"IU/mL","scale":{"domain":[0,250],"nice":false},"axis":{"values":[0,50,100,150,200,250],"format":"d","minExtent":32,"maxExtent":32}}}},
{"data":{"name":"pts"},"transform":[{"filter":"datum.p=='h'"},{"window":[{"op":"row_number","as":"rn"}],"groupby":["g"]},{"window":[{"op":"percent_rank","as":"pr"}],"sort":[{"field":"rn"}],"groupby":["g"]}],"mark":{"type":"point","filled":true,"opacity":1,"size":30,"color":"black"},"encoding":{"xOffset":{"field":"pr","type":"quantitative","scale":{"domain":[0,1],"range":[1,31]}},"y":{"field":"v","type":"quantitative","title":"IU/mL","scale":{"domain":[0,250],"nice":false},"axis":{"values":[0,50,100,150,200,250],"format":"d","minExtent":32,"maxExtent":32}},"shape":{"condition":{"test":"datum.g=='CTRL'||datum.g=='WT'","value":"circle"},"value":"square"}}},
{"data":{"name":"sum"},"transform":[{"filter":"datum.p=='h'"}],"mark":{"type":"rule","strokeWidth":2,"color":"black"},"encoding":{"y":{"field":"lo","type":"quantitative","title":"IU/mL","scale":{"domain":[0,250],"nice":false},"axis":{"values":[0,50,100,150,200,250],"format":"d","minExtent":32,"maxExtent":32}},"y2":{"field":"hi"}}},
{"data":{"name":"sum"},"transform":[{"filter":"datum.p=='h'"}],"mark":{"type":"tick","size":15,"thickness":2,"color":"black"},"encoding":{"y":{"field":"hi","type":"quantitative","title":"IU/mL","scale":{"domain":[0,250],"nice":false},"axis":{"values":[0,50,100,150,200,250],"format":"d","minExtent":32,"maxExtent":32}}}},
{"data":{"name":"sum"},"transform":[{"filter":"datum.p=='h'"}],"mark":{"type":"tick","size":15,"thickness":2,"color":"black"},"encoding":{"y":{"field":"lo","type":"quantitative","title":"IU/mL","scale":{"domain":[0,250],"nice":false},"axis":{"values":[0,50,100,150,200,250],"format":"d","minExtent":32,"maxExtent":32}}}}
]}]},
{"title":{"text":"i","anchor":"start","fontWeight":"bold","fontSize":16,"offset":-4},"vconcat":[{"width":89,"height":136,"title":{"text":"AK","anchor":"middle","frame":"group","offset":8,"fontWeight":"normal"},
"encoding":{"x":{"field":"g","type":"nominal","title":null,"scale":{"domain":["WT","KO"],"paddingInner":0.289,"paddingOuter":0.1323,"align":0.503},"axis":{"labelExpr":"datum.value=='WT'?['WT','n=7']:['Abcc6⁻/⁻','n=9']"}}},
"layer":[
{"data":{"name":"sum"},"transform":[{"filter":"datum.p=='i'"}],"mark":{"type":"bar","fill":"white","stroke":"black","strokeWidth":2},"encoding":{"y":{"field":"m","type":"quantitative","title":"nM/mL/hr","scale":{"domain":[0,7000],"nice":false},"axis":{"values":[0,2000,4000,6000],"format":"d","minExtent":32,"maxExtent":32}}}},
{"data":{"name":"pts"},"transform":[{"filter":"datum.p=='i'"},{"window":[{"op":"row_number","as":"rn"}],"groupby":["g"]},{"window":[{"op":"percent_rank","as":"pr"}],"sort":[{"field":"rn"}],"groupby":["g"]}],"mark":{"type":"point","filled":true,"opacity":1,"size":30,"color":"black"},"encoding":{"xOffset":{"field":"pr","type":"quantitative","scale":{"domain":[0,1],"range":[8,24]}},"y":{"field":"v","type":"quantitative","title":"nM/mL/hr","scale":{"domain":[0,7000],"nice":false},"axis":{"values":[0,2000,4000,6000],"format":"d","minExtent":32,"maxExtent":32}},"shape":{"condition":{"test":"datum.g=='CTRL'||datum.g=='WT'","value":"circle"},"value":"square"}}},
{"data":{"name":"sum"},"transform":[{"filter":"datum.p=='i'"}],"mark":{"type":"rule","strokeWidth":2,"color":"black"},"encoding":{"y":{"field":"lo","type":"quantitative","title":"nM/mL/hr","scale":{"domain":[0,7000],"nice":false},"axis":{"values":[0,2000,4000,6000],"format":"d","minExtent":32,"maxExtent":32}},"y2":{"field":"hi"}}},
{"data":{"name":"sum"},"transform":[{"filter":"datum.p=='i'"}],"mark":{"type":"tick","size":19,"thickness":2,"color":"black"},"encoding":{"y":{"field":"hi","type":"quantitative","title":"nM/mL/hr","scale":{"domain":[0,7000],"nice":false},"axis":{"values":[0,2000,4000,6000],"format":"d","minExtent":32,"maxExtent":32}}}},
{"data":{"name":"sum"},"transform":[{"filter":"datum.p=='i'"}],"mark":{"type":"tick","size":19,"thickness":2,"color":"black"},"encoding":{"y":{"field":"lo","type":"quantitative","title":"nM/mL/hr","scale":{"domain":[0,7000],"nice":false},"axis":{"values":[0,2000,4000,6000],"format":"d","minExtent":32,"maxExtent":32}}}}
]}]},
{"title":{"text":"j","anchor":"start","fontWeight":"bold","fontSize":16,"offset":-4},"vconcat":[{"width":88,"height":136,"title":{"text":"NPP","anchor":"middle","frame":"group","offset":8,"fontWeight":"normal"},
"encoding":{"x":{"field":"g","type":"nominal","title":null,"scale":{"domain":["WT","KO"],"paddingInner":0.289,"paddingOuter":0.1212,"align":0.641},"axis":{"labelExpr":"datum.value=='WT'?['WT','n=27']:['Abcc6-/-','n=15']"}}},
"layer":[
{"data":{"name":"sum"},"transform":[{"filter":"datum.p=='j'"}],"mark":{"type":"bar","fill":"white","stroke":"black","strokeWidth":2},"encoding":{"y":{"field":"m","type":"quantitative","title":"nM/mL/hr","scale":{"domain":[0,800],"nice":false},"axis":{"values":[0,200,400,600,800],"format":"d","minExtent":32,"maxExtent":32}}}},
{"data":{"name":"pts"},"transform":[{"filter":"datum.p=='j'"},{"window":[{"op":"row_number","as":"rn"}],"groupby":["g"]},{"window":[{"op":"percent_rank","as":"pr"}],"sort":[{"field":"rn"}],"groupby":["g"]}],"mark":{"type":"point","filled":true,"opacity":1,"size":30,"color":"black"},"encoding":{"xOffset":{"field":"pr","type":"quantitative","scale":{"domain":[0,1],"range":[2,30]}},"y":{"field":"v","type":"quantitative","title":"nM/mL/hr","scale":{"domain":[0,800],"nice":false},"axis":{"values":[0,200,400,600,800],"format":"d","minExtent":32,"maxExtent":32}},"shape":{"condition":{"test":"datum.g=='CTRL'||datum.g=='WT'","value":"circle"},"value":"square"}}},
{"data":{"name":"sum"},"transform":[{"filter":"datum.p=='j'"}],"mark":{"type":"rule","strokeWidth":2,"color":"black"},"encoding":{"y":{"field":"lo","type":"quantitative","title":"nM/mL/hr","scale":{"domain":[0,800],"nice":false},"axis":{"values":[0,200,400,600,800],"format":"d","minExtent":32,"maxExtent":32}},"y2":{"field":"hi"}}},
{"data":{"name":"sum"},"transform":[{"filter":"datum.p=='j'"}],"mark":{"type":"tick","size":15,"thickness":2,"color":"black"},"encoding":{"y":{"field":"hi","type":"quantitative","title":"nM/mL/hr","scale":{"domain":[0,800],"nice":false},"axis":{"values":[0,200,400,600,800],"format":"d","minExtent":32,"maxExtent":32}}}},
{"data":{"name":"sum"},"transform":[{"filter":"datum.p=='j'"}],"mark":{"type":"tick","size":15,"thickness":2,"color":"black"},"encoding":{"y":{"field":"lo","type":"quantitative","title":"nM/mL/hr","scale":{"domain":[0,800],"nice":false},"axis":{"values":[0,200,400,600,800],"format":"d","minExtent":32,"maxExtent":32}}}},
{"data":{"name":"br"},"transform":[{"filter":"datum.p=='j'"}],"mark":{"type":"line","color":"black","strokeWidth":1.5},"encoding":{"y":{"field":"y","type":"quantitative","title":"nM/mL/hr","scale":{"domain":[0,800],"nice":false},"axis":{"values":[0,200,400,600,800],"format":"d","minExtent":32,"maxExtent":32}},"order":{"field":"o"}}},
{"data":{"name":"sig"},"transform":[{"filter":"datum.p=='j'"}],"mark":{"type":"text","dx":22.5,"fontSize":15,"baseline":"middle","color":"black"},"encoding":{"y":{"field":"y","type":"quantitative","title":"nM/mL/hr","scale":{"domain":[0,800],"nice":false},"axis":{"values":[0,200,400,600,800],"format":"d","minExtent":32,"maxExtent":32}},"text":{"field":"t"}}}
]}]}
],"spacing":18,"resolve":{"scale":{"x":"independent","y":"independent","xOffset":"independent"}}}
],
"spacing":39,
"resolve":{"scale":{"x":"independent","y":"independent","xOffset":"independent"}},
"config":{
"font":"Liberation Sans",
"view":{"stroke":null},
"axis":{"domainColor":"black","domainWidth":2,"tickColor":"black","tickWidth":1.5,"labelColor":"black","titleColor":"black","grid":false,"labelFontSize":11,"titleFontWeight":"normal","titleFontSize":15},
"axisY":{"tickSize":5,"labelPadding":2,"titlePadding":4},
"axisX":{"ticks":false,"labelAngle":0,"labelFontStyle":"italic","labelPadding":8,"labelLineHeight":14,"labelFontSize":11},
"title":{"color":"black","fontWeight":"normal","fontSize":15}
}
}
